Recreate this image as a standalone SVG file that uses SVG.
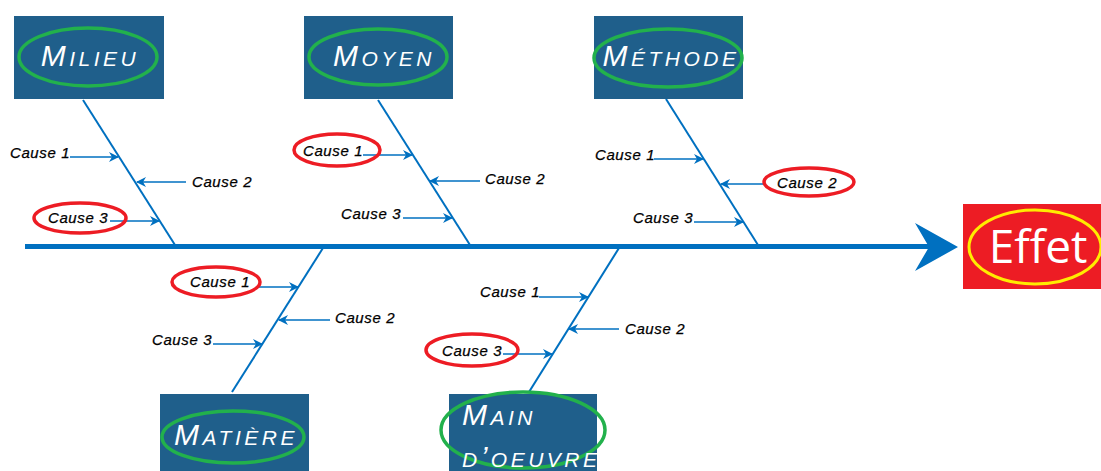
<svg xmlns="http://www.w3.org/2000/svg" width="1101" height="471" viewBox="0 0 1101 471">
  <style>
    .box { fill: #1f5f8b; }
    .ring { fill: none; stroke: #22b14c; stroke-width: 3.5; }
    .mark { fill: none; stroke: #ed1c24; stroke-width: 3.5; }
    .head { font-family: "Liberation Sans", "DejaVu Sans", sans-serif; font-style: italic; font-variant: small-caps; font-size: 30px; fill: #ffffff; letter-spacing: 3.5px; }
    .cause { font-family: "Liberation Sans", "DejaVu Sans", sans-serif; font-style: italic; font-size: 15px; fill: #000000; letter-spacing: 0.6px; stroke: #000000; stroke-width: 0.25; }
    .bone { stroke: #0070c0; stroke-width: 2; fill: none; }
    .tick { stroke: #0070c0; stroke-width: 1.5; fill: none; marker-end: url(#tip); }
  </style>
  <defs>
    <marker id="tip" viewBox="0 0 10 10" refX="9" refY="5" markerWidth="11" markerHeight="10" markerUnits="userSpaceOnUse" orient="auto">
      <path d="M0,0 L10,5 L0,10 L3,5 Z" fill="#0070c0"/>
    </marker>
  </defs>

  <!-- spine, bones and cause arrows -->
  <g id="connectors">
    <line x1="25" y1="246.5" x2="930" y2="246.5" stroke="#0070c0" stroke-width="5"/>
    <path d="M958,247 L915,223 L929,247 L915,271 Z" fill="#0070c0"/>

    <line class="bone" x1="83" y1="100" x2="175" y2="245"/>
    <line class="bone" x1="378" y1="100" x2="470" y2="245"/>
    <line class="bone" x1="666" y1="99" x2="758" y2="245"/>
    <line class="bone" x1="323" y1="248" x2="232" y2="392"/>
    <line class="bone" x1="619" y1="248" x2="529" y2="392"/>

    <!-- Milieu -->
    <line class="tick" x1="70" y1="157" x2="118" y2="157"/>
    <line class="tick" x1="186" y1="182" x2="137" y2="182"/>
    <line class="tick" x1="110" y1="221" x2="159" y2="221"/>
    <!-- Moyen -->
    <line class="tick" x1="363" y1="155" x2="412" y2="155"/>
    <line class="tick" x1="480" y1="181" x2="430" y2="181"/>
    <line class="tick" x1="403" y1="218" x2="452" y2="218"/>
    <!-- Méthode -->
    <line class="tick" x1="654" y1="159" x2="703" y2="159"/>
    <line class="tick" x1="765" y1="184" x2="721" y2="184"/>
    <line class="tick" x1="694" y1="222" x2="743" y2="222"/>
    <!-- Matière -->
    <line class="tick" x1="258" y1="287" x2="298" y2="287"/>
    <line class="tick" x1="330" y1="320" x2="279" y2="320"/>
    <line class="tick" x1="213" y1="344" x2="262" y2="344"/>
    <!-- Main d'oeuvre -->
    <line class="tick" x1="539" y1="297" x2="588" y2="297"/>
    <line class="tick" x1="619" y1="329" x2="569" y2="329"/>
    <line class="tick" x1="503" y1="354" x2="552" y2="354"/>
  </g>

  <!-- cause labels -->
  <g id="causes">
    <text class="cause" x="10" y="158">Cause 1</text>
    <text class="cause" x="192" y="187">Cause 2</text>
    <ellipse class="mark" cx="80" cy="218" rx="46" ry="15"/>
    <text class="cause" x="48" y="223">Cause 3</text>

    <ellipse class="mark" cx="337" cy="150" rx="43" ry="16"/>
    <text class="cause" x="303" y="156">Cause 1</text>
    <text class="cause" x="485" y="184">Cause 2</text>
    <text class="cause" x="341" y="219">Cause 3</text>

    <text class="cause" x="595" y="160">Cause 1</text>
    <ellipse class="mark" cx="809" cy="182" rx="45" ry="14"/>
    <text class="cause" x="777" y="188">Cause 2</text>
    <text class="cause" x="633" y="223">Cause 3</text>

    <ellipse class="mark" cx="216" cy="282" rx="44" ry="15"/>
    <text class="cause" x="190" y="287">Cause 1</text>
    <text class="cause" x="335" y="323">Cause 2</text>
    <text class="cause" x="152" y="345">Cause 3</text>

    <text class="cause" x="480" y="297">Cause 1</text>
    <text class="cause" x="625" y="334">Cause 2</text>
    <ellipse class="mark" cx="472" cy="350" rx="46" ry="16"/>
    <text class="cause" x="442" y="356">Cause 3</text>
  </g>

  <g id="milieu">
    <rect class="box" x="14" y="16" width="150" height="83"/>
    <ellipse class="ring" cx="88" cy="57" rx="69" ry="29"/>
    <text class="head" x="90" y="66" text-anchor="middle">Milieu</text>
  </g>

  <g id="moyen">
    <rect class="box" x="304" y="16" width="149" height="83"/>
    <ellipse class="ring" cx="378" cy="57" rx="69" ry="28"/>
    <text class="head" x="384" y="66" text-anchor="middle">Moyen</text>
  </g>

  <g id="methode">
    <rect class="box" x="594" y="16" width="149" height="83"/>
    <ellipse class="ring" cx="668" cy="58" rx="74" ry="29"/>
    <text class="head" x="671" y="66" text-anchor="middle">Méthode</text>
  </g>

  <g id="matiere">
    <rect class="box" x="160" y="394" width="149" height="77"/>
    <ellipse class="ring" cx="233" cy="437" rx="71" ry="26"/>
    <text class="head" x="236" y="445" text-anchor="middle">Matière</text>
  </g>

  <g id="main-oeuvre">
    <rect class="box" x="449" y="394" width="148" height="77"/>
    <ellipse class="ring" cx="523" cy="430" rx="82" ry="38"/>
    <text class="head" x="462" y="425">Main</text>
    <text class="head" x="462" y="467">d’oeuvre</text>
  </g>

  <g id="effet">
    <rect x="963" y="204" width="138" height="85" fill="#ed1c24"/>
    <ellipse cx="1035" cy="247" rx="66" ry="37" fill="none" stroke="#ffec00" stroke-width="3"/>
    <text x="1038" y="263" text-anchor="middle" font-family="'Open Sans', 'Liberation Sans', sans-serif" font-size="46" fill="#ffffff">Effet</text>
  </g>
</svg>
